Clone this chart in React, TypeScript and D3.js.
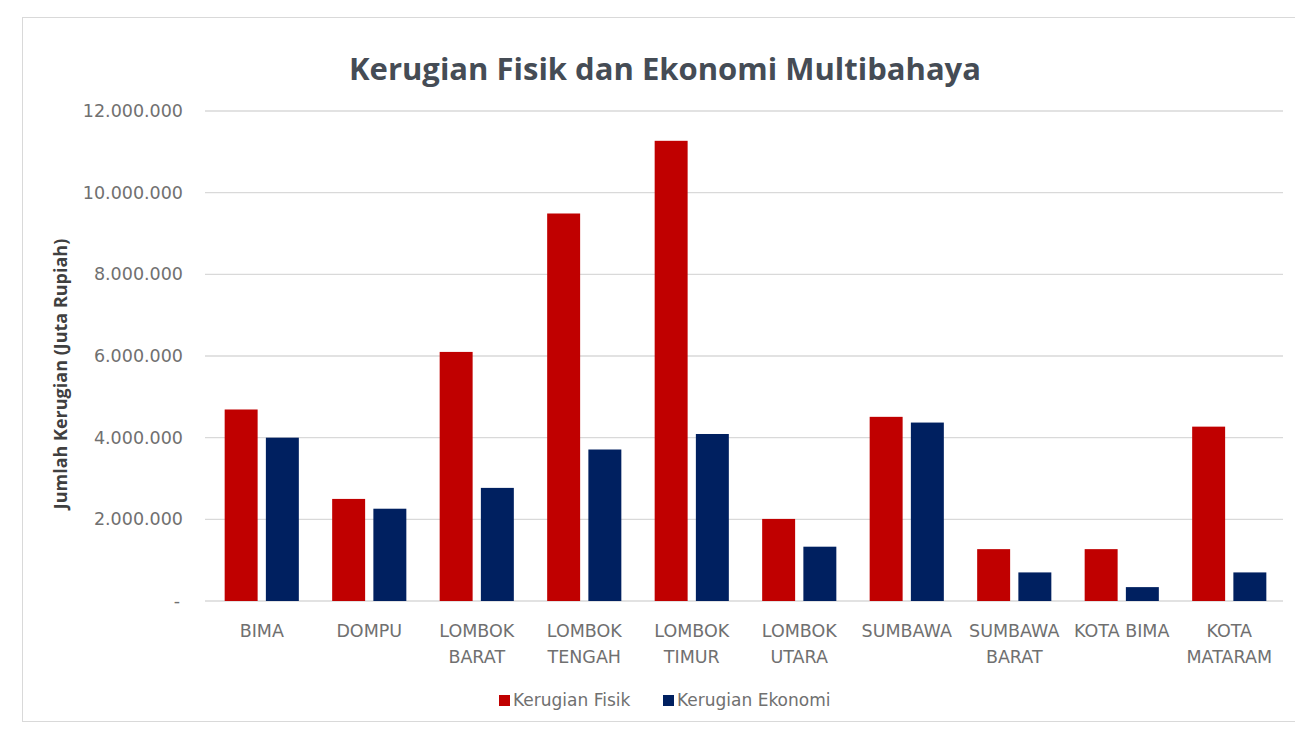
import React, { useRef, useEffect } from "react";
import * as d3 from "d3";

// Kabupaten / kota
const categories = [
  "BIMA",
  "DOMPU",
  "LOMBOK BARAT",
  "LOMBOK TENGAH",
  "LOMBOK TIMUR",
  "LOMBOK UTARA",
  "SUMBAWA",
  "SUMBAWA BARAT",
  "KOTA BIMA",
  "KOTA MATARAM",
];

// Label lines as they wrap under the axis
const categoryLines = [
  ["BIMA"],
  ["DOMPU"],
  ["LOMBOK", "BARAT"],
  ["LOMBOK", "TENGAH"],
  ["LOMBOK", "TIMUR"],
  ["LOMBOK", "UTARA"],
  ["SUMBAWA"],
  ["SUMBAWA", "BARAT"],
  ["KOTA BIMA"],
  ["KOTA", "MATARAM"],
];

const seriesNames = ["Kerugian Fisik", "Kerugian Ekonomi"];

// Juta Rupiah
const kerugianFisik = [
  4690000, 2500000, 6100000, 9490000, 11270000, 2010000, 4510000, 1270000,
  1270000, 4270000,
];
const kerugianEkonomi = [
  4000000, 2260000, 2770000, 3710000, 4090000, 1330000, 4370000, 700000,
  340000, 700000,
];

const yTicks = [0, 2000000, 4000000, 6000000, 8000000, 10000000, 12000000];

const colors = ["#c00000", "#002060"];

const WIDTH = 1295;
const HEIGHT = 729;

const BarChart: React.FC = () => {
  const svgRef = useRef<SVGSVGElement | null>(null);

  useEffect(() => {
    const svg = d3.select(svgRef.current);
    svg.selectAll("*").remove();

    const plot = { left: 208, right: 1283, top: 111, bottom: 601 };
    const tickFont = "'DejaVu Sans', sans-serif";

    // chart frame
    svg
      .append("rect")
      .attr("x", 22.5)
      .attr("y", 17.5)
      .attr("width", WIDTH)
      .attr("height", 704)
      .attr("fill", "#fff")
      .attr("stroke", "#d9d9d9");

    const x0 = d3
      .scaleBand<string>()
      .domain(categories)
      .range([plot.left, plot.right])
      .paddingInner(0.31)
      .paddingOuter(0.155);

    const x1 = d3
      .scaleBand<string>()
      .domain(seriesNames)
      .range([0, x0.bandwidth()])
      .paddingInner(0.2);

    const y = d3
      .scaleLinear()
      .domain([0, 12000000])
      .range([plot.bottom, plot.top]);

    const fmt = (v: number) =>
      v === 0 ? "-" : d3.format(",")(v).replace(/,/g, ".");

    // gridlines
    svg
      .append("g")
      .selectAll("line")
      .data(yTicks)
      .join("line")
      .attr("x1", plot.left - 3)
      .attr("x2", plot.right)
      .attr("y1", (d) => y(d))
      .attr("y2", (d) => y(d))
      .attr("stroke", "#d9d9d9")
      .attr("stroke-width", 1.3);

    // y tick labels
    svg
      .append("g")
      .selectAll("text")
      .data(yTicks)
      .join("text")
      .attr("x", (d) => (d === 0 ? 180 : 183))
      .attr("y", (d) => y(d) + 6)
      .attr("text-anchor", "end")
      .attr("font-family", tickFont)
      .attr("font-size", 17.5)
      .attr("fill", "#707070")
      .text((d) => fmt(d));

    // bars
    const rows = categories.map((c, i) => ({
      category: c,
      values: [kerugianFisik[i], kerugianEkonomi[i]],
    }));

    const groups = svg
      .append("g")
      .selectAll("g")
      .data(rows)
      .join("g")
      .attr("transform", (d) => `translate(${x0(d.category)},0)`);

    groups
      .selectAll("rect")
      .data((d) => d.values.map((v, k) => ({ key: seriesNames[k], value: v, k })))
      .join("rect")
      .attr("x", (d) => x1(d.key)!)
      .attr("y", (d) => y(d.value))
      .attr("width", x1.bandwidth())
      .attr("height", (d) => y(0) - y(d.value))
      .attr("fill", (d) => colors[d.k]);

    // x labels
    const xLabels = svg
      .append("g")
      .selectAll("text")
      .data(categories)
      .join("text")
      .attr("x", (d) => x0(d)! + x0.bandwidth() / 2)
      .attr("y", 637)
      .attr("text-anchor", "middle")
      .attr("font-family", tickFont)
      .attr("font-size", 17.5)
      .attr("fill", "#707070");

    xLabels
      .selectAll("tspan")
      .data((d) => categoryLines[categories.indexOf(d)] ?? [d])
      .join("tspan")
      .attr("x", function () {
        return (this.parentNode as SVGTextElement).getAttribute("x");
      })
      .attr("dy", (d, i) => (i === 0 ? 0 : 26))
      .text((d) => d);

    // title
    svg
      .append("text")
      .attr("x", 665)
      .attr("y", 80)
      .attr("text-anchor", "middle")
      .attr("font-family", "'Open Sans', sans-serif")
      .attr("font-weight", 700)
      .attr("font-size", 31)
      .attr("fill", "#454c55")
      .text("Kerugian Fisik dan Ekonomi Multibahaya");

    // y axis title
    svg
      .append("text")
      .attr("transform", "translate(67, 374) rotate(-90)")
      .attr("text-anchor", "middle")
      .attr("font-family", "'Open Sans', sans-serif")
      .attr("font-weight", 700)
      .attr("font-size", 18)
      .attr("fill", "#404040")
      .text("Jumlah Kerugian (Juta Rupiah)");

    // legend
    const legendX = [499, 663];
    const legend = svg
      .append("g")
      .selectAll("g")
      .data(seriesNames)
      .join("g")
      .attr("transform", (d, i) => `translate(${legendX[i]}, 695)`);

    legend
      .append("rect")
      .attr("width", 11)
      .attr("height", 11)
      .attr("fill", (d, i) => colors[i]);

    legend
      .append("text")
      .attr("x", 14)
      .attr("y", 11)
      .attr("font-family", tickFont)
      .attr("font-size", 17)
      .attr("fill", "#707070")
      .text((d) => d);
  }, []);

  return <svg ref={svgRef} width={WIDTH} height={HEIGHT}></svg>;
};

export default function App() {
  return (
    <div style={{ position: "absolute", left: 0, top: 0 }}>
      <BarChart />
    </div>
  );
}
